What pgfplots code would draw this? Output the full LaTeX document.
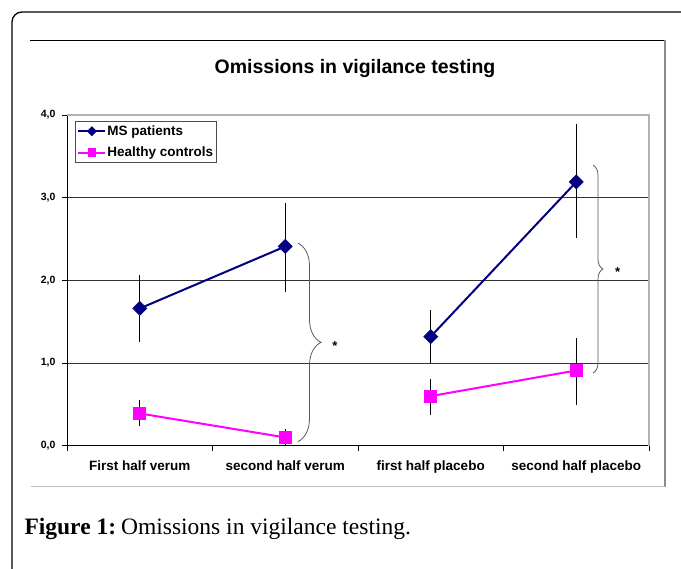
\documentclass[border=0pt]{standalone}
\usepackage{fontspec}
\setmainfont{Liberation Sans}
\newfontfamily\seriffont{Liberation Serif}
\usepackage{pgfplots}
\usepackage{pgfplotstable}
\pgfplotsset{compat=1.18}
\usetikzlibrary{decorations.pathreplacing}
\definecolor{msblue}{RGB}{0,0,128}
\definecolor{hcmag}{RGB}{255,0,255}

\pgfplotstableread{
x y ep em
0 1.66 0.40 0.40
1 2.41 0.52 0.55
1.5 nan 0 0
2 1.32 0.32 0.32
3 3.19 0.70 0.68
}\msdata
\pgfplotstableread{
x y ep em
0 0.39 0.16 0.15
1 0.10 0.10 0.10
1.5 nan 0 0
2 0.60 0.21 0.23
3 0.91 0.39 0.42
}\hcdata

\begin{document}
\begin{tikzpicture}
\useasboundingbox (0pt,0pt) rectangle (681pt,-569pt);
\begin{scope}[x=1pt,y=1pt]
% outer frame
\draw[line width=1.3pt, rounded corners=10pt] (681,-12) -- (12,-12) -- (12,-569);
% inner chart frame
\draw[black, line width=0.8pt] (30,-40) -- (665,-40);
\draw[black!45, line width=1.3pt] (665,-40) -- (665,-487);
\draw[black!25, line width=1pt] (31,-487) -- (665,-487);
% title
\node[anchor=base, font=\fontsize{19.5}{22}\selectfont\bfseries] at (355,-74) {Omissions in vigilance testing};
% caption
\node[anchor=base west, font=\seriffont\fontsize{23.5}{27}\selectfont] at (21,-535)
  {\textbf{Figure 1:}\hspace{-0.12em} Omissions in vigilance testing.};
\end{scope}

\begin{axis}[
  at={(67pt,-445.7pt)}, anchor=south west,
  scale only axis, width=582pt, height=330.7pt,
  xmin=-0.5, xmax=3.5, ymin=0, ymax=4,
  clip=false,
  unbounded coords=jump,
  axis lines*=left,
  axis line style={black, line width=0.8pt},
  tick align=outside,
  major tick length=5pt,
  tick style={black, line width=0.8pt},
  xtick={-0.5,0.5,1.5,2.5,3.5},
  xticklabels={First half verum, second half verum, first half placebo, second half placebo},
  x tick label as interval,
  xticklabel style={font=\fontsize{13.5}{16}\selectfont\bfseries, anchor=base, yshift=-20pt},
  ytick={0,1,2,3,4},
  yticklabel style={font=\fontsize{10.5}{12}\selectfont\bfseries, anchor=east, xshift=-3pt,
    /pgf/number format/.cd, fixed, fixed zerofill, precision=1, use comma, assume math mode=true},
  ymajorgrids,
  major grid style={black!80, line width=0.7pt},
  legend style={at={(0.01375,0.9828)}, anchor=north west,
    draw=black!70, line width=0.8pt, inner xsep=2pt, inner ysep=2pt,
    font=\fontsize{13.5}{16}\selectfont\bfseries,
    nodes={inner xsep=1pt, inner ysep=2.5pt}, row sep=5pt},
  legend cell align=left,
  legend image code/.code={%
    \draw[mark repeat=2, mark phase=2, #1, every mark/.append style={scale=0.6}]
      plot coordinates {(0pt,0pt) (13.5pt,0pt) (27pt,0pt)};},
]
\addplot[msblue, line width=2pt, mark=square*, mark size=4.3pt,
  mark options={rotate=45, solid},
  error bars/.cd, y dir=both, y explicit, error mark=none,
  error bar style={black, line width=0.7pt}]
  table[x=x, y=y, y error plus=ep, y error minus=em] {\msdata};
\addlegendentry{MS patients}
\addplot[hcmag, line width=2pt, mark=square*, mark size=5.5pt,
  mark options={solid},
  error bars/.cd, y dir=both, y explicit, error mark=none,
  error bar style={black, line width=0.7pt}]
  table[x=x, y=y, y error plus=ep, y error minus=em] {\hcdata};
\addlegendentry{Healthy controls}
% plot area top/right border
\draw[black!30, line width=1.3pt] (rel axis cs:0,1) -- (rel axis cs:1,1) -- (rel axis cs:1,0);
% significance braces
\draw[black!65, line width=0.8pt, decorate, decoration={brace, amplitude=23pt, aspect=0.5}]
  (axis cs:1.0876,2.45) -- (axis cs:1.0876,0.05);
\node[font=\fontsize{13}{14}\selectfont\bfseries] at (axis cs:1.342,1.20) {*};
\draw[black!65, line width=0.8pt, decorate, decoration={brace, amplitude=10pt, aspect=0.5}]
  (axis cs:3.115,3.394) -- (axis cs:3.115,0.879);
\node[font=\fontsize{13}{14}\selectfont\bfseries] at (axis cs:3.285,2.10) {*};
\end{axis}
\end{tikzpicture}
\end{document}
